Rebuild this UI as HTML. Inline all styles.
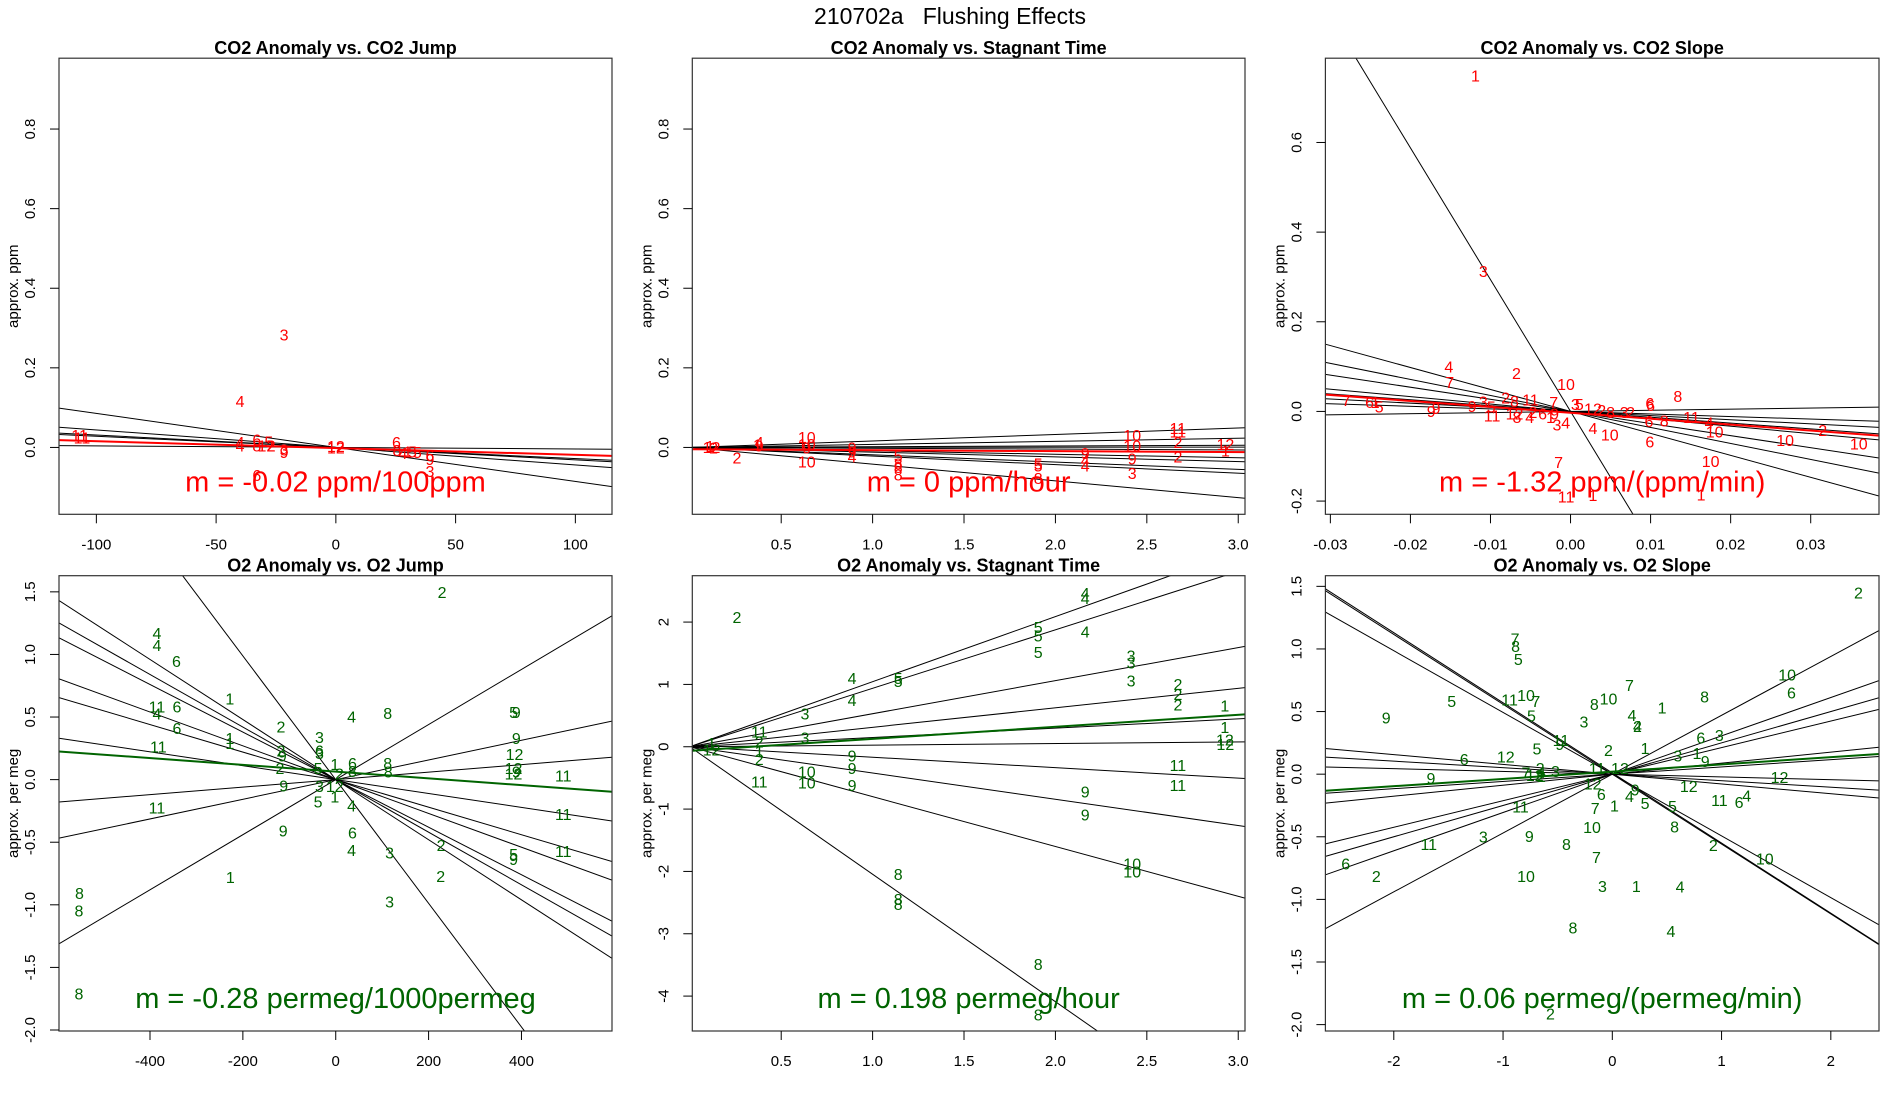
<!DOCTYPE html>
<html><head><meta charset="utf-8"><style>
html,body{margin:0;padding:0;background:#fff;}
svg{display:block;font-family:"Liberation Sans",Arial,sans-serif;}
</style></head><body>
<svg id="fig" width="1900" height="1100" viewBox="0 0 1900 1100" xmlns="http://www.w3.org/2000/svg">
<rect x="0" y="0" width="1900" height="1100" fill="#fff"/>
<text x="950" y="24" font-size="23" text-anchor="middle" fill="#000" style="white-space:pre" xml:space="preserve">210702a   Flushing Effects</text>
</svg>
<script>
// ---- Panel 1: CO2 Anomaly vs CO2 Jump ----
const p1Labels = ["3","4","11","11","4","4","6","5","8","12","2","3","9","12","12","6","8","4","1","5","5","6","9","3","6"];
const p1X = [-21.6,-40,-107,-106,-40,-40,-33,-28,-33,-29,-27,-21.6,-21.6,0,0,25.3,25.5,28,30,32,34,39.3,39.3,39.3,-33];
const p1Y = [0.283,0.115,0.03,0.024,0.012,0.003,0.019,0.014,0.003,0.003,0.003,-0.006,-0.013,-0.002,0.002,0.012,-0.008,-0.015,-0.012,-0.012,-0.013,-0.02,-0.03,-0.06,-0.07];
const p1Slopes = [-0.000855,-0.00044,-0.000312,-0.00028,-0.000039];
const p1Ints = [0,0,0,0,0];
const p1Fit = [-0.000171,-0.0015];
const p1XTicks = [-100,-50,0,50,100];
const p1XTickLabels = ["-100","-50","0","50","100"];
const p1YTicks = [0,0.2,0.4,0.6,0.8];
const p1YTickLabels = ["0.0","0.2","0.4","0.6","0.8"];

// ---- Panel 2: CO2 Anomaly vs Stagnant Time ----
const p2Labels = ["12","1","2","2","4","9","1","10","10","9","10","9","9","4","5","8","8","8","5","5","8","9","4","4","10","10","9","3","11","11","2","2","12","1"];
const p2X = [0.119,0.11,0.13,0.258,0.38,0.38,0.37,0.64,0.64,0.64,0.64,0.888,0.888,0.888,1.14,1.14,1.14,1.14,1.906,1.906,1.906,2.163,2.163,2.163,2.42,2.42,2.42,2.42,2.67,2.67,2.67,2.67,2.93,2.93];
const p2Y = [0,0.002,-0.002,-0.027,0.012,0.003,0.006,0.025,0.007,-0.002,-0.036,-0.002,-0.011,-0.024,-0.022,-0.042,-0.051,-0.069,-0.042,-0.047,-0.078,-0.015,-0.033,-0.047,0.03,0.004,-0.029,-0.065,0.048,0.039,0.012,-0.024,0.007,-0.009];
const p2Slopes = [0.0163,0.0077,0.0018,0.0003,-0.0021,-0.0086,-0.0118,-0.0184,-0.0216,-0.042];
const p2Ints = [0,0,0,0,0,0,0,0,0,0];
const p2Fit = [-0.0024,-0.0045];
const p2XTicks = [0.5,1.0,1.5,2.0,2.5,3.0];
const p2XTickLabels = ["0.5","1.0","1.5","2.0","2.5","3.0"];
const p2YTicks = [0,0.2,0.4,0.6,0.8];
const p2YTickLabels = ["0.0","0.2","0.4","0.6","0.8"];

// ---- Panel 3: CO2 Anomaly vs CO2 Slope ----
const p3Labels = ["1","3","4","7","2","10","7","6","1","5","9","9","9","3","5","2","8","11","11","12","8","4","2","6","9","1","3","4","7","3","5","12","2","8","3","2","4","10","6","6","8","6","8","6","11","4","10","10","2","10","10","7","11","1","1"];
const p3X = [-0.01188,-0.0109,-0.0152,-0.0151,-0.00675,-0.00056,-0.028,-0.0251,-0.0244,-0.0239,-0.0174,-0.0168,-0.0123,-0.0109,-0.0099,-0.0081,-0.007,-0.005,-0.0098,-0.007,-0.0067,-0.0051,-0.0047,-0.0035,-0.002,-0.0025,-0.0017,-0.0006,-0.0021,0.0006,0.0011,0.0028,0.0039,0.005,0.0067,0.0075,0.0028,0.0049,0.0099,0.0100,0.0134,0.0098,0.0117,0.0099,0.0151,0.0173,0.018,0.0268,0.0315,0.036,0.0175,-0.0015,-0.00056,0.0028,0.0163];
const p3Y = [0.748,0.312,0.0996,0.064,0.085,0.06,0.024,0.02,0.02,0.0096,0,0.006,0.011,0.0215,0.01,0.03,0.022,0.025,-0.01,-0.006,-0.014,-0.013,-0.002,-0.006,-0.006,-0.014,-0.03,-0.026,0.02,0.015,0.015,0.0056,0.0016,-0.002,-0.002,-0.002,-0.038,-0.053,0.0175,0.013,0.033,-0.022,-0.021,-0.068,-0.013,-0.026,-0.046,-0.065,-0.042,-0.0725,-0.112,-0.114,-0.191,-0.188,-0.186];
const p3Slopes = [-29.4,-4.9,-3.57,-2.7,-1.65,-1.3,-0.925,-0.57,0.25];
const p3Ints = [0,0,0,0,0,0,0,0,0];
const p3Fit = [-1.32,-0.003];
const p3XTicks = [-0.03,-0.02,-0.01,0,0.01,0.02,0.03];
const p3XTickLabels = ["-0.03","-0.02","-0.01","0.00","0.01","0.02","0.03"];
const p3YTicks = [-0.2,0,0.2,0.4,0.6];
const p3YTickLabels = ["-0.2","0.0","0.2","0.4","0.6"];

// ---- Panel 4: O2 Anomaly vs O2 Jump ----
const p4Labels = ["2","4","4","6","1","11","6","4","6","2","1","1","11","3","6","3","2","9","2","5","1","6","8","2","12","1","3","9","5","4","8","8","8","5","9","9","12","12","9","12","11","11","11","11","4","6","9","4","3","2","5","9","1","2","3","8","8","8"];
const p4X = [229,-385,-385,-343,-228,-385,-342,-385,-342,-118,-228,-228,-382,-35,-35,-35,-118,-115,-120,-38,-2,36,36,8,-2,-2,-35,-112,-38,34,112,112,113,383,389,389,385,383,389,383,490,490,490,-385,34,36,-113,34,116,227,383,383,-227,226,116,-552,-553,-553];
const p4Y = [1.496,1.166,1.073,0.944,0.645,0.579,0.579,0.525,0.41,0.42,0.33,0.288,0.26,0.336,0.23,0.21,0.23,0.19,0.088,0.088,0.122,0.13,0.066,0.045,-0.055,-0.14,-0.055,-0.05,-0.177,0.5,0.53,0.13,0.06,0.535,0.535,0.33,0.2,0.09,0.06,0.045,0.03,-0.28,-0.576,-0.225,-0.21,-0.426,-0.41,-0.568,-0.588,-0.525,-0.6,-0.64,-0.78,-0.774,-0.976,-0.91,-1.05,-1.714];
const p4Slopes = [-0.0024,-0.0021,-0.0019,-0.00135,-0.0011,-0.000555,0.0003,0.000785,0.0022,-0.00494];
const p4Ints = [0,0,0,0,0,0,0,0,0,0];
const p4Fit = [-0.00027,0.064];
const p4XTicks = [-400,-200,0,200,400];
const p4XTickLabels = ["-400","-200","0","200","400"];
const p4YTicks = [-2,-1.5,-1,-0.5,0,0.5,1,1.5];
const p4YTickLabels = ["-2.0","-1.5","-1.0","-0.5","0.0","0.5","1.0","1.5"];

// ---- Panel 5: O2 Anomaly vs Stagnant Time ----
const p5Labels = ["2","4","4","5","5","4","5","3","3","3","4","5","5","4","2","2","2","1","1","12","12","3","3","11","2","1","2","1","12","9","9","9","10","10","11","11","11","9","9","10","10","8","8","8","8","8"];
const p5X = [0.258,2.163,2.163,1.906,1.906,2.163,1.906,2.414,2.414,2.414,0.888,1.14,1.14,0.888,2.67,2.67,2.67,2.927,2.927,2.927,2.93,0.63,0.63,0.38,0.38,0.38,0.38,0.119,0.119,0.888,0.888,0.888,0.64,0.64,0.38,2.67,2.67,2.163,2.163,2.42,2.42,1.14,1.14,1.14,1.906,1.906];
const p5Y = [2.074,2.46,2.38,1.91,1.78,1.84,1.51,1.455,1.34,1.054,1.095,1.095,1.043,0.74,1.0,0.84,0.67,0.653,0.31,0.11,0.04,0.527,0.137,0.24,0.08,-0.074,-0.206,0.05,-0.05,-0.149,-0.35,-0.625,-0.407,-0.58,-0.567,-0.304,-0.625,-0.722,-1.095,-1.88,-2.01,-2.05,-2.45,-2.53,-3.49,-4.3];
const p5Slopes = [1.044,0.938,0.53,0.312,0.149,0.026,-0.168,-0.421,-0.80,-2.045];
const p5Ints = [0,0,0,0,0,0,0,0,0,0];
const p5Fit = [0.193,-0.066];
const p5XTicks = [0.5,1.0,1.5,2.0,2.5,3.0];
const p5XTickLabels = ["0.5","1.0","1.5","2.0","2.5","3.0"];
const p5YTicks = [-4,-3,-2,-1,0,1,2];
const p5YTickLabels = ["-4","-3","-2","-1","0","1","2"];

// ---- Panel 6: O2 Anomaly vs O2 Slope ----
const p6Labels = ["2","7","8","5","9","5","11","10","7","5","7","8","10","3","1","8","4","4","2","10","6","6","3","1","2","11","9","5","6","12","3","1","9","7","12","2","4","2","3","11","12","9","12","6","9","4","1","5","5","12","12","11","6","4","7","11","10","8","3","9","11","8","2","7","10","6","2","10","3","1","4","8","4","2"];
const p6X = [2.253,-0.89,-0.885,-0.86,-2.07,-1.47,-0.94,-0.79,-0.70,-0.74,0.157,-0.165,-0.035,-0.26,0.455,0.845,0.18,0.23,0.23,1.6,1.64,0.81,0.98,0.3,-0.035,-0.47,-0.48,-0.69,-1.355,-0.975,0.6,0.775,0.85,-0.79,-0.71,-0.66,-0.65,-0.65,-0.52,-0.14,0.07,-1.66,-0.18,-0.1,0.21,0.157,0.02,0.3,0.55,0.7,1.53,0.98,1.16,1.23,-0.157,-0.84,-0.186,0.57,-1.18,-0.76,-1.68,-0.42,0.925,-0.145,1.395,-2.44,-2.16,-0.79,-0.09,0.22,0.62,-0.36,0.537,-0.566];
const p6Y = [1.445,1.08,1.02,0.915,0.45,0.58,0.592,0.63,0.58,0.466,0.707,0.558,0.6,0.416,0.53,0.616,0.467,0.38,0.38,0.79,0.65,0.287,0.31,0.207,0.188,0.267,0.236,0.2,0.117,0.136,0.145,0.165,0.1,0.01,-0.01,0.045,0.015,-0.02,0.02,0.045,0.045,-0.035,-0.077,-0.163,-0.126,-0.18,-0.254,-0.235,-0.26,-0.098,-0.026,-0.21,-0.226,-0.175,-0.274,-0.263,-0.425,-0.42,-0.5,-0.496,-0.56,-0.56,-0.57,-0.667,-0.676,-0.716,-0.816,-0.816,-0.896,-0.896,-0.9,-1.23,-1.258,-1.915];
const p6Slopes = [-0.56,-0.558,-0.493,-0.078,-0.052,-0.022,0.088,0.058,0.212,0.25,0.306,0.47];
const p6Ints = [0.01,0,0,0,0,0,0,0,0,0,0,0];
const p6Fit = [0.058,0.02];
const p6XTicks = [-2,-1,0,1,2];
const p6XTickLabels = ["-2","-1","0","1","2"];
const p6YTicks = [-2,-1.5,-1,-0.5,0,0.5,1,1.5];
const p6YTickLabels = ["-2.0","-1.5","-1.0","-0.5","0.0","0.5","1.0","1.5"];

const NS = "http://www.w3.org/2000/svg";
const svg = document.getElementById("fig");
function mk(tag, attrs, parent) {
  const e = document.createElementNS(NS, tag);
  for (const k in attrs) e.setAttribute(k, attrs[k]);
  (parent || svg).appendChild(e);
  return e;
}

const panels = [
  {id:"co2-jump", title:"CO2 Anomaly vs. CO2 Jump", L:59, R:612, T:58.2, B:514.3, xr:[-115.6,115.3], yr:[-0.168,0.978], col:"#ff0000", ylab:"approx. ppm", m:"m = -0.02 ppm/100ppm",
   labels:p1Labels, xs:p1X, ys:p1Y, slopes:p1Slopes, ints:p1Ints, fit:p1Fit, xt:p1XTicks, xtl:p1XTickLabels, yt:p1YTicks, ytl:p1YTickLabels},
  {id:"co2-stagnant", title:"CO2 Anomaly vs. Stagnant Time", L:692.3, R:1245, T:58.2, B:514.3, xr:[0.0137,3.037], yr:[-0.168,0.978], col:"#ff0000", ylab:"approx. ppm", m:"m = 0 ppm/hour",
   labels:p2Labels, xs:p2X, ys:p2Y, slopes:p2Slopes, ints:p2Ints, fit:p2Fit, xt:p2XTicks, xtl:p2XTickLabels, yt:p2YTicks, ytl:p2YTickLabels},
  {id:"co2-slope", title:"CO2 Anomaly vs. CO2 Slope", L:1325.4, R:1879, T:58.2, B:514.3, xr:[-0.03062,0.03853], yr:[-0.2295,0.788], col:"#ff0000", ylab:"approx. ppm", m:"m = -1.32 ppm/(ppm/min)",
   labels:p3Labels, xs:p3X, ys:p3Y, slopes:p3Slopes, ints:p3Ints, fit:p3Fit, xt:p3XTicks, xtl:p3XTickLabels, yt:p3YTicks, ytl:p3YTickLabels},
  {id:"o2-jump", title:"O2 Anomaly vs. O2 Jump", L:59, R:612, T:575.7, B:1031, xr:[-596,595], yr:[-2.008,1.629], col:"#006400", ylab:"approx. per meg", m:"m = -0.28 permeg/1000permeg",
   labels:p4Labels, xs:p4X, ys:p4Y, slopes:p4Slopes, ints:p4Ints, fit:p4Fit, xt:p4XTicks, xtl:p4XTickLabels, yt:p4YTicks, ytl:p4YTickLabels},
  {id:"o2-stagnant", title:"O2 Anomaly vs. Stagnant Time", L:692.3, R:1245, T:575.7, B:1031, xr:[0.0137,3.037], yr:[-4.56,2.744], col:"#006400", ylab:"approx. per meg", m:"m = 0.198 permeg/hour",
   labels:p5Labels, xs:p5X, ys:p5Y, slopes:p5Slopes, ints:p5Ints, fit:p5Fit, xt:p5XTicks, xtl:p5XTickLabels, yt:p5YTicks, ytl:p5YTickLabels},
  {id:"o2-slope", title:"O2 Anomaly vs. O2 Slope", L:1325.4, R:1879, T:575.7, B:1031, xr:[-2.626,2.441], yr:[-2.051,1.585], col:"#006400", ylab:"approx. per meg", m:"m = 0.06 permeg/(permeg/min)",
   labels:p6Labels, xs:p6X, ys:p6Y, slopes:p6Slopes, ints:p6Ints, fit:p6Fit, xt:p6XTicks, xtl:p6XTickLabels, yt:p6YTicks, ytl:p6YTickLabels}
];

const defs = mk("defs", {});
panels.forEach(p => {
  const sx = v => p.L + (v - p.xr[0]) / (p.xr[1] - p.xr[0]) * (p.R - p.L);
  const sy = v => p.B - (v - p.yr[0]) / (p.yr[1] - p.yr[0]) * (p.B - p.T);
  const g = mk("g", {});
  
  
  const cp = mk("clipPath", {id: "clip-" + p.id}, defs);
  mk("rect", {x:p.L, y:p.T, width:p.R-p.L, height:p.B-p.T}, cp);

  const t = mk("text", {x:(p.L+p.R)/2, y:p.T-4, "font-size":18, "font-weight":"bold", "text-anchor":"middle"}, g);
  t.textContent = p.title;
  
  

  const lg = mk("g", {"clip-path":"url(#clip-" + p.id + ")"}, g);
  
  
  p.slopes.forEach((s, i) => {
    const b = p.ints[i];
    const ln = mk("line", {x1:sx(p.xr[0]), y1:sy(b + s*p.xr[0]), x2:sx(p.xr[1]), y2:sy(b + s*p.xr[1]), stroke:"#000", "stroke-width":1}, lg);
    
    
  });
  p.labels.forEach((lab, i) => {
    const tx = mk("text", {x:sx(p.xs[i]), y:sy(p.ys[i]) + 5.5, "font-size":16, "text-anchor":"middle", fill:p.col}, lg);
    tx.textContent = lab;
    
    
  });
  const fl = mk("line", {x1:sx(p.xr[0]), y1:sy(p.fit[1] + p.fit[0]*p.xr[0]), x2:sx(p.xr[1]), y2:sy(p.fit[1] + p.fit[0]*p.xr[1]), stroke:p.col, "stroke-width":2}, lg);
  
  

  const box = mk("rect", {x:p.L, y:p.T, width:p.R-p.L, height:p.B-p.T, fill:"none", stroke:"#333", "stroke-width":1.2}, g);
  
  

  p.xt.forEach((v, i) => {
    const x = sx(v);
    const tk = mk("line", {x1:x, y1:p.B, x2:x, y2:p.B+9, stroke:"#000", "stroke-width":1}, g);
    
    
    const tl = mk("text", {x:x, y:p.B+35, "font-size":15, "text-anchor":"middle"}, g);
    tl.textContent = p.xtl[i];
    
    
  });
  p.yt.forEach((v, i) => {
    const y = sy(v);
    const tk = mk("line", {x1:p.L-9, y1:y, x2:p.L, y2:y, stroke:"#000", "stroke-width":1}, g);
    
    
    const tl = mk("text", {x:0, y:0, "font-size":15, "text-anchor":"middle", transform:"translate(" + (p.L-24) + "," + y + ") rotate(-90)"}, g);
    tl.textContent = p.ytl[i];
    
    
  });
  const yl = mk("text", {x:0, y:0, "font-size":15, "text-anchor":"middle", transform:"translate(" + (p.L-41) + "," + ((p.T+p.B)/2) + ") rotate(-90)"}, g);
  yl.textContent = p.ylab;
  
  

  const mt = mk("text", {x:(p.L+p.R)/2, y:p.B-23, "font-size":29, "text-anchor":"middle", fill:p.col}, g);
  mt.textContent = p.m;
  
  
});
</script>
</body></html>
